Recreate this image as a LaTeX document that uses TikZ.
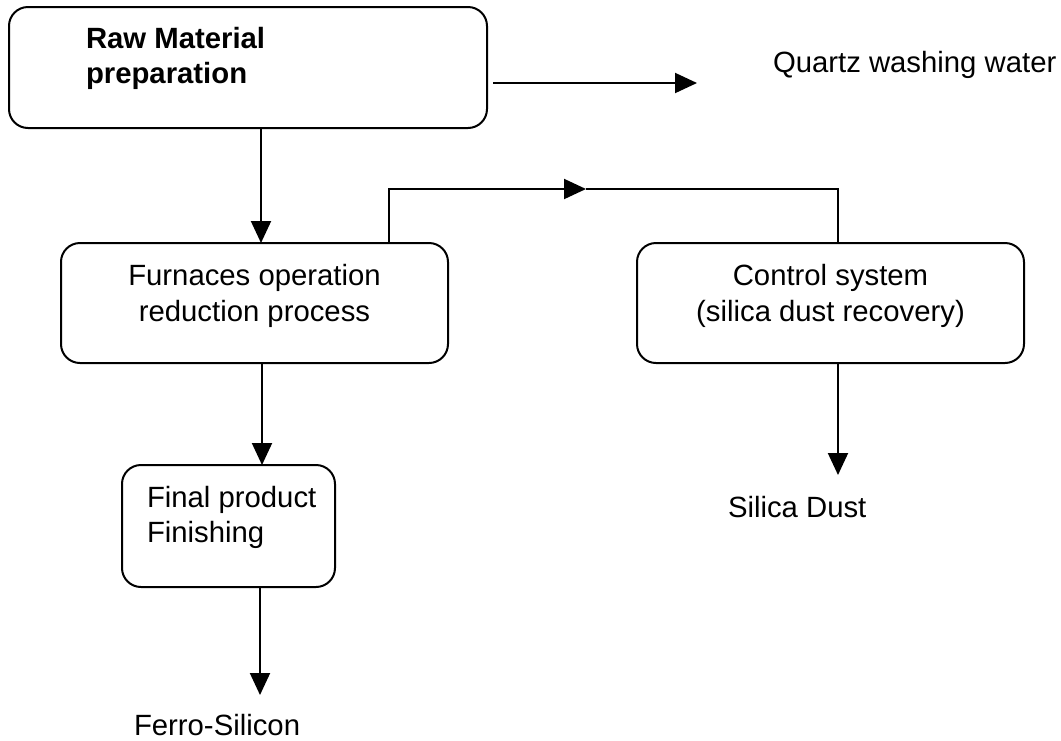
\documentclass[tikz,border=0pt]{standalone}
\usepackage{fontspec}
\setmainfont{Liberation Sans}
\usetikzlibrary{arrows.meta}
\begin{document}
\begin{tikzpicture}[x=1pt,y=-1pt,
  every node/.style={inner sep=0pt,outer sep=0pt,font=\fontsize{29.3}{35}\selectfont},
  procbox/.style={draw,line width=2pt,rounded corners=19pt,minimum width=#1},
  lbl/.style={anchor=base west},
  ctr/.style={anchor=base},
  flow/.style={line width=2pt},
  arr/.style={flow,-{Triangle[length=22pt,width=20pt]}}]
\path[use as bounding box] (0,0) rectangle (1061,740);

% process boxes
\node[procbox=478pt,minimum height=121pt] (raw)  at (248,67.5) {};
\node[procbox=387pt,minimum height=120pt] (furn) at (254.5,303) {};
\node[procbox=213pt,minimum height=122pt] (fin)  at (228.5,526) {};
\node[procbox=387pt,minimum height=120pt] (ctrl) at (830.5,303) {};

% box texts
\node[lbl,font=\fontsize{29.3}{35}\selectfont\bfseries] (rawA) at (86,48) {Raw Material};
\node[lbl,font=\fontsize{29.3}{35}\selectfont\bfseries] (rawB) at (86,83) {preparation};
\node[ctr] (furnA) at (254.5,285) {Furnaces operation};
\node[ctr] (furnB) at (254.5,321) {reduction process};
\node[lbl] (finA) at (147,507) {Final product};
\node[lbl] (finB) at (147,542) {Finishing};
\node[ctr] (ctrlA) at (830.5,285) {Control system};
\node[ctr] (ctrlB) at (830.5,321) {(silica dust recovery)};

% outputs
\node[lbl] (quartz) at (773,72) {Quartz washing water};
\node[lbl] (dust)   at (728,517) {Silica Dust};
\node[lbl] (ferro)  at (134,735) {Ferro-Silicon};

% connector guide coordinates
\coordinate (colA) at (261,0);
\coordinate (colB) at (262,0);
\coordinate (colC) at (260,0);
\coordinate (colD) at (389,0);
\coordinate (colE) at (838,0);
\coordinate (rowQ) at (0,83);
\coordinate (qtip) at (697,83);
\coordinate (mid)  at (586,189);
\coordinate (dtip) at (838,475);
\coordinate (ftip) at (260,695);

% connectors
\draw[arr] (raw.south -| colA) -- (furn.north -| colA);
\draw[arr,shorten <=6pt] (raw.east |- rowQ) -- (qtip);
\draw[arr] (furn.north -| colD) |- (mid);
\draw[flow] (mid) -| (ctrl.north -| colE);
\draw[arr] (furn.south -| colB) -- (fin.north -| colB);
\draw[arr] (fin.south -| colC) -- (ftip);
\draw[arr] (ctrl.south -| colE) -- (dtip);
\end{tikzpicture}
\end{document}
